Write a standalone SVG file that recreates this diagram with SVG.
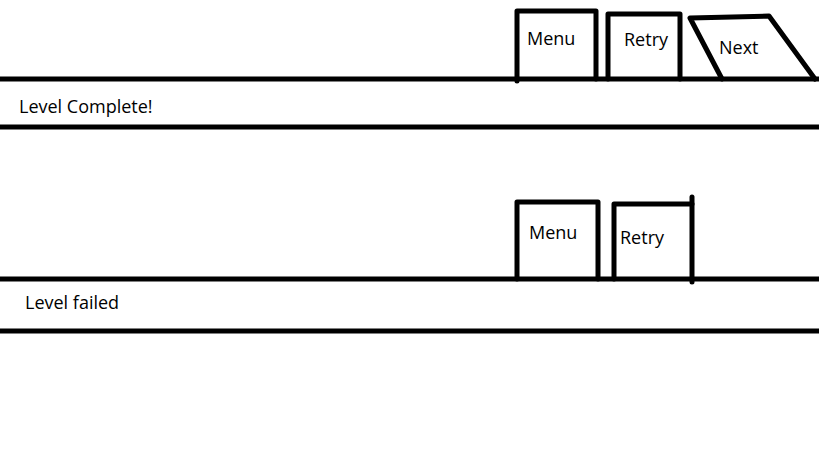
<svg xmlns="http://www.w3.org/2000/svg" width="819" height="460" viewBox="0 0 819 460">
<style>
.ln{stroke:#000;stroke-width:5;fill:none;stroke-linecap:round;stroke-linejoin:round}
.bar{stroke:#000;stroke-width:5;fill:none}
.t{font-family:"Open Sans","Noto Sans",sans-serif;font-size:18px;fill:#000}
</style>
<rect width="819" height="460" fill="#fff"/>
<g id="complete-bar">
<line class="bar" x1="0" y1="79" x2="819" y2="79"/>
<line class="bar" x1="0" y1="127" x2="819" y2="127"/>
<text class="t" x="19" y="113">Level Complete!</text>
</g>
<g id="menu1">
<polyline class="ln" points="517,81 517,11 596,11 596,79"/>
<text class="t" x="527" y="45">Menu</text>
</g>
<g id="retry1">
<polyline class="ln" points="608,79 608,14 680,14 680,79"/>
<text class="t" x="624" y="46">Retry</text>
</g>
<g id="next1">
<polyline class="ln" points="722,79 690,18 769,16 815,79"/>
<text class="t" x="719" y="54">Next</text>
</g>
<g id="failed-bar">
<line class="bar" x1="0" y1="279" x2="819" y2="279"/>
<line class="bar" x1="0" y1="331" x2="819" y2="331"/>
<text class="t" x="25" y="309">Level failed</text>
</g>
<g id="menu2">
<polyline class="ln" points="517,279 517,202 598,202 598,279"/>
<text class="t" x="529" y="239">Menu</text>
</g>
<g id="retry2">
<polyline class="ln" points="614,279 614,204 692,204"/>
<line class="ln" x1="692" y1="197" x2="692" y2="282"/>
<text class="t" x="620" y="244">Retry</text>
</g>
<g id="connectors"/>
</svg>
